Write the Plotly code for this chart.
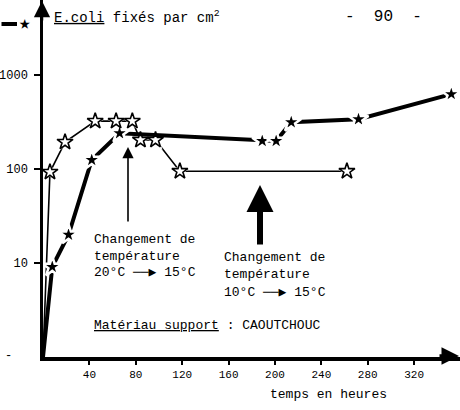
import plotly.graph_objects as go

# ---- data ----
hours_open = [0, 6, 19, 45, 63, 77, 84, 97, 118, 262]
cells_open = [1, 93, 194, 324, 324, 324, 204, 204, 95, 95]
hours_filled = [0, 8, 22, 42, 66, 189, 201, 214, 272, 352]
cells_filled = [1, 9.1, 20, 125, 241, 199, 199, 316, 340, 628]
x_ticks = [40, 80, 120, 160, 200, 240, 280, 320]
y_ticks = [10, 100, 1000]
y_tick_labels = ["10", "100", "1000"]

FONT = "Liberation Mono, DejaVu Sans Mono, monospace"
L, T, PW, PH = 43, 0, 417, 357


def px(x):
    return (x - L) / PW


def py(y):
    return (T + PH - y) / PH


fig = go.Figure()

# open-star series: line, white mask for gaps, then open stars
fig.add_trace(go.Scatter(x=hours_open, y=cells_open, mode="lines",
                         line=dict(color="black", width=1.6), hoverinfo="skip"))
fig.add_trace(go.Scatter(x=hours_open[1:], y=cells_open[1:], mode="markers",
                         marker=dict(symbol="star", size=17, color="white",
                                     line=dict(width=0)), hoverinfo="skip"))
# filled-star series
fig.add_trace(go.Scatter(x=hours_filled, y=cells_filled, mode="lines",
                         line=dict(color="black", width=4), hoverinfo="skip"))
fig.add_trace(go.Scatter(x=hours_filled[1:], y=cells_filled[1:], mode="markers",
                         marker=dict(symbol="star", size=15, color="black",
                                     line=dict(width=2.5, color="white")), hoverinfo="skip"))
fig.add_trace(go.Scatter(x=hours_open[1:], y=cells_open[1:], mode="markers",
                         marker=dict(symbol="star-open", size=12, color="black",
                                     line=dict(width=1.6, color="black")), hoverinfo="skip"))

ann = []


def text(x, y, s, size=13, anchor="left"):
    ann.append(dict(x=px(x), y=py(y), xref="paper", yref="paper", text=s,
                    showarrow=False, xanchor=anchor, yanchor="middle",
                    font=dict(family=FONT, size=size, color="black")))


def arrow(x, y, ax, ay, head, size, width):
    ann.append(dict(x=px(x), y=py(y), xref="paper", yref="paper", text="",
                    showarrow=True, ax=ax, ay=ay, arrowhead=head, arrowsize=size,
                    arrowwidth=width, arrowcolor="black"))


text(52, 17, "<u>E.coli</u> fixés par cm<sup>2</sup>", size=14)
text(343, 17, "-  90  -", size=16)
text(268, 394, "temps en heures", size=13)
text(92, 239, "Changement de")
text(92, 256, "température")
text(92, 272, "20°C ──▶ 15°C")
text(222, 257, "Changement de")
text(222, 274, "température")
text(222, 292, "10°C ──▶ 15°C")
text(92, 325, "<u>Matériau support</u> : CAOUTCHOUC")
text(3, 356, "-", size=12)
text(24, 24, "★", size=19, anchor="center")

# legend fragment line (top-left)
arrow(17, 24, -18, 0, 0, 1, 4)
# change-of-temperature arrows
arrow(128, 147, 0, 76, 2, 1.4, 1.6)
arrow(260, 185, 0, 61, 2, 0.9, 6)
# axis arrowheads
arrow(42, 0, 0, 22, 2, 1.3, 2.5)
arrow(460, 356, -22, 0, 2, 1, 3.5)

fig.update_layout(
    width=460, height=410,
    margin=dict(l=L, r=0, t=T, b=410 - PH - T),
    paper_bgcolor="white", plot_bgcolor="white",
    showlegend=False,
    annotations=ann,
    xaxis=dict(range=[0, 359.5], tickvals=x_ticks, ticks="outside", ticklen=4,
               tickwidth=1.5, tickcolor="black", showline=True, linewidth=3.5,
               linecolor="black", showgrid=False, zeroline=False,
               tickfont=dict(family=FONT, size=11, color="black")),
    yaxis=dict(type="log", range=[0, 3.8], tickvals=y_ticks, ticktext=y_tick_labels,
               ticks="outside", ticklen=6, tickwidth=1.5, tickcolor="black",
               showline=True, linewidth=2.5, linecolor="black", showgrid=False,
               zeroline=False, ticklabelstandoff=4,
               tickfont=dict(family=FONT, size=12, color="black")),
)

fig.write_html("out.html", config={"displayModeBar": False},
               post_script="document.body.style.margin='0';document.body.style.overflow='hidden';")
